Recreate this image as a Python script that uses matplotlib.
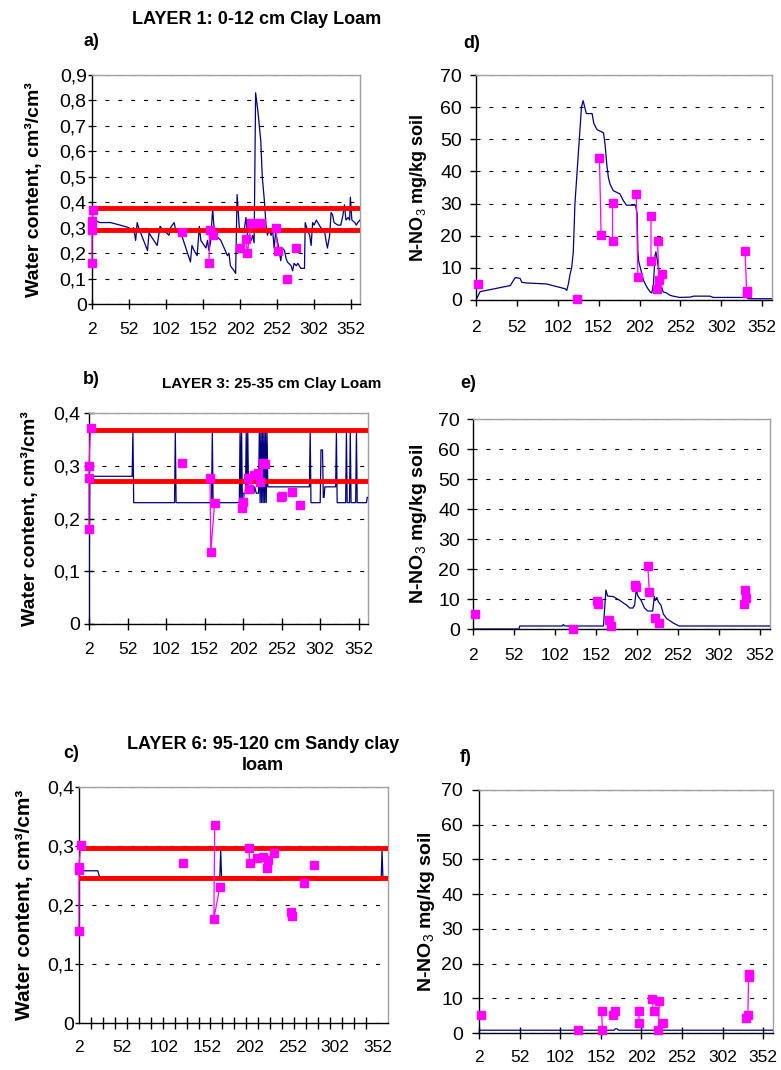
import matplotlib.pyplot as plt
import numpy as np

plt.rcParams['font.family'] = ['Liberation Sans', 'DejaVu Sans']
plt.rcParams['mathtext.fontset'] = 'custom'
plt.rcParams['mathtext.rm'] = 'Liberation Sans'
plt.rcParams['mathtext.it'] = 'Liberation Sans:italic'
plt.rcParams['mathtext.bf'] = 'Liberation Sans:bold'

W, H = 781, 1070

# day-of-year axis
day_ticks = [2, 52, 102, 152, 202, 252, 302, 352]
c_minor_ticks = [2, 16, 30, 44, 58, 72, 86, 100, 114, 128, 142, 156, 170, 184,
                 198, 212, 226, 240, 254, 268, 282, 296, 310, 324, 338, 352]

wc_ticks_a = [0, 0.1, 0.2, 0.3, 0.4, 0.5, 0.6, 0.7, 0.8, 0.9]
wc_labels_a = ['0', '0,1', '0,2', '0,3', '0,4', '0,5', '0,6', '0,7', '0,8', '0,9']
wc_ticks_bc = [0, 0.1, 0.2, 0.3, 0.4]
wc_labels_bc = ['0', '0,1', '0,2', '0,3', '0,4']
no3_ticks = [0, 10, 20, 30, 40, 50, 60, 70]

# ---- a) layer 1 water content, simulated ----
a_days = [2, 4, 13, 27, 40, 52, 54, 56, 58, 61, 63, 65, 77, 79, 81, 90, 94, 95, 106, 108,
          113, 115, 119, 122, 135, 137, 140, 142, 144, 147, 149, 156, 158, 160, 162,
          165, 167, 169, 176, 185, 187, 189, 194, 196, 198, 201, 203, 207, 210, 212,
          214, 217, 219, 221, 223, 226, 228, 230, 232, 235, 237, 239, 241, 244, 246,
          248, 250, 253, 257, 259, 262, 264, 266, 271, 273, 275, 278, 280, 282, 284,
          289, 290, 293, 296, 298, 300, 302, 305, 307, 311, 316, 318, 320, 323, 325,
          327, 329, 334, 338, 341, 343, 345, 348, 350, 351, 353, 357, 359, 361, 364]
a_vals = [0.33, 0.33, 0.32, 0.32, 0.31, 0.30, 0.29, 0.29, 0.30, 0.25, 0.32, 0.30, 0.21, 0.28, 0.27,
          0.23, 0.305, 0.30, 0.27, 0.30, 0.32, 0.29, 0.29, 0.28, 0.165, 0.23, 0.21, 0.20, 0.19,
          0.305, 0.25, 0.22, 0.25, 0.21, 0.24, 0.375, 0.29, 0.27, 0.25, 0.19, 0.20, 0.15, 0.13,
          0.12, 0.43, 0.30, 0.29, 0.28, 0.34, 0.27, 0.24, 0.25, 0.27, 0.24, 0.83, 0.76, 0.70,
          0.64, 0.50, 0.40, 0.31, 0.27, 0.29, 0.27, 0.29, 0.22, 0.28, 0.24, 0.17, 0.22, 0.21,
          0.18, 0.165, 0.15, 0.13, 0.16, 0.15, 0.16, 0.15, 0.14, 0.14, 0.32, 0.29, 0.27, 0.23,
          0.32, 0.31, 0.33, 0.32, 0.30, 0.29, 0.25, 0.22, 0.27, 0.36, 0.35, 0.32, 0.31, 0.31,
          0.35, 0.39, 0.33, 0.34, 0.33, 0.42, 0.33, 0.32, 0.31, 0.32, 0.33]
a_obs_days = [2, 2, 2, 4, None, 124, None, 160, 161, 166, None,
              202, 210, 212, 217, 223, 230, None, 250, 253, None, 266, None, 277]
a_obs_vals = [0.16, 0.29, 0.325, 0.37, None, 0.283, None, 0.16, 0.29, 0.27, None,
              0.22, 0.255, 0.20, 0.32, 0.32, 0.32, None, 0.30, 0.21, None, 0.10, None, 0.22]
a_limits = [0.377, 0.289]

# ---- b) layer 3 water content ----
b_days = [2, 3, 58, 59, 60, 113, 114, 115, 161, 162, 163, 197, 198, 199, 200, 201, 202, 205,
          206, 207, 208, 209, 216, 217, 219, 222, 223, 224, 225, 226, 227, 228, 229, 230, 231,
          232, 233, 234, 288, 289, 290, 302, 303, 305, 306, 307, 308, 322, 323, 324, 335, 336,
          337, 340, 341, 342, 348, 349, 350, 362, 363, 364]
b_vals = [0.0, 0.28, 0.28, 0.365, 0.23, 0.23, 0.365, 0.23, 0.23, 0.365, 0.23, 0.23, 0.365, 0.23,
          0.365, 0.23, 0.248, 0.248, 0.365, 0.248, 0.365, 0.248, 0.248, 0.26, 0.248, 0.248,
          0.365, 0.23, 0.365, 0.23, 0.365, 0.23, 0.365, 0.23, 0.365, 0.23, 0.365, 0.26, 0.26,
          0.365, 0.23, 0.23, 0.33, 0.33, 0.24, 0.24, 0.26, 0.26, 0.365, 0.23, 0.23, 0.365,
          0.23, 0.23, 0.365, 0.23, 0.23, 0.365, 0.23, 0.23, 0.24, 0.24]
b_obs_days = [2, 2, 2, 4, None, 123, None, 159, 160, 165, None,
              201, 202, 208, 210, 216, 221, 224, 228, 230, None, 251, 253, None, 265, None, 276]
b_obs_vals = [0.18, 0.276, 0.30, 0.372, None, 0.305, None, 0.276, 0.136, 0.229, None,
              0.219, 0.232, 0.276, 0.255, 0.282, 0.286, 0.27, 0.306, 0.303, None, 0.24, 0.242,
              None, 0.25, None, 0.226]
b_limits = [0.368, 0.272]

# ---- c) layer 6 water content ----
c_days = [2, 24, 26, 167, 168, 169, 208, 209, 239, 240, 280, 281, 356, 357, 358, 364]
c_vals = [0.258, 0.258, 0.248, 0.248, 0.293, 0.248, 0.248, 0.242, 0.242, 0.248, 0.248, 0.242,
          0.242, 0.293, 0.248, 0.248]
c_obs_days = [2, 2, 2, 4, None, 124, None, 161, 160, 167, None,
              201, 202, 210, 217, 222, 224, 230, None, 250, 252, None, 266, None, 277]
c_obs_vals = [0.156, 0.26, 0.265, 0.302, None, 0.272, None, 0.335, 0.177, 0.231, None,
              0.296, 0.271, 0.279, 0.282, 0.262, 0.276, 0.288, None, 0.188, 0.182, None, 0.238,
              None, 0.268]
c_limits = [0.297, 0.245]

# ---- d) layer 1 nitrate ----
d_days = [2, 7, 11, 44, 50, 56, 58, 64, 88, 111, 113, 115, 117, 119, 121, 123, 127, 131, 133,
          135, 137, 144, 146, 150, 158, 160, 162, 164, 166, 170, 178, 182, 186, 194, 197, 199,
          200, 201, 203, 207, 211, 215, 217, 219, 221, 222, 224, 226, 229, 231, 235, 239, 243,
          251, 264, 268, 288, 292, 333, 335, 364]
d_vals = [0, 2.6, 2.8, 4.5, 7, 6.7, 5.5, 5.3, 5, 3.5, 3, 5, 8, 10, 15, 30, 45, 60, 62, 60, 58,
          58, 55, 53, 52, 48, 42, 38, 36, 34, 33, 31, 29.5, 29.5, 29.5, 27, 15, 12, 10, 6, 4,
          2.5, 2.2, 5, 14, 15, 12, 8, 4, 2.5, 2.2, 1.5, 1.2, 0.8, 0.9, 1.2, 1.2, 0.8, 0.8, 0.4,
          0.4]
d_obs_days = [4, None, 125, None, 153, 155, None, 169, 169, None, 198, 200, None, 216, 216, None,
              223, None, 224, 226, None, 229, None, 331, 333, 334]
d_obs_vals = [5.0, None, 0.2, None, 44.1, 20.2, None, 30.3, 18.5, None, 32.9, 7.3, None, 26.1,
              12.1, None, 3.3, None, 18.4, 6.3, None, 8.1, None, 15.3, 2.8, 2.3]

# ---- e) layer 3 nitrate ----
e_days = [2, 58, 59, 111, 112, 114, 161, 164, 166, 173, 181, 189, 193, 197, 199, 201, 203, 207,
          211, 215, 221, 223, 224, 226, 228, 231, 234, 238, 246, 253, 364]
e_vals = [0, 0, 1, 1, 1.5, 1, 1, 13, 11, 10.8, 9.5, 8, 7, 7, 8, 13, 11, 9.5, 7, 6, 6, 10.8, 9.5,
          10.5, 9, 8, 5, 3.5, 2, 1, 1]
e_obs_days = [4, None, 124, None, 153, 154, None, 168, 170, None, 199, 201, None, 215, 217, None,
              224, 229, None, 332, 333, 335]
e_obs_vals = [4.9, None, 0.1, None, 9.3, 8.5, None, 3.1, 1.1, None, 14.8, 14.0, None, 21.1, 12.2,
              None, 3.8, 2.1, None, 8.5, 12.9, 10.4]

# ---- f) layer 6 nitrate ----
f_days = [2, 168, 170, 172, 174, 364]
f_vals = [0.8, 0.8, 1.2, 1.2, 0.8, 0.8]
f_obs_days = [4, None, 124, None, 153, 154, None, 167, 169, None, 199, 199, None, 215, 217, None,
              224, 223, None, 229, None, 331, 333, 334, 335]
f_obs_vals = [5.1, None, 1.0, None, 6.3, 1.0, None, 5.1, 6.3, None, 6.3, 3.0, None, 9.9, 6.3,
              None, 9.1, 1.0, None, 3.0, None, 4.3, 5.1, 16.2, 17.1]

wc_label = 'Water content, cm\u00b3/cm\u00b3'
no3_label = 'N-NO$_3$ mg/kg soil'

fig = plt.figure(figsize=(W / 100, H / 100), dpi=100)


def px_rect(left, top, right, bottom):
    return [left / W, 1 - bottom / H, (right - left) / W, (bottom - top) / H]


def panel(box, sim_d, sim_v, obs_d, obs_v, ymax, yticks, ylabels, ylabel, label_x, label_fs,
          limits=None, xdir='out', xlen=4, xpad=10, ydir='out', ylen=4, ypad=4):
    ax = fig.add_axes(px_rect(*box))
    ax.plot(sim_d, sim_v, color='#000080', lw=0.9, zorder=3)
    if limits:
        for lvl in limits:
            ax.axhline(lvl, color='#FF0000', lw=3.5, zorder=4)
    ax.plot(np.array(obs_d, dtype=float), np.array(obs_v, dtype=float), color='#FF00FF',
            lw=0.9, marker='s', ms=6, mec='#FF00FF', mfc='#FF00FF', zorder=5, clip_on=False)
    ax.set_xlim(2, 364)
    ax.set_ylim(0, ymax)
    ax.set_xticks(day_ticks)
    ax.set_yticks(yticks)
    ax.set_yticklabels(ylabels)
    ax.yaxis.grid(True, color='black', lw=0.8, linestyle=(0, (3.6, 8)))
    ax.set_axisbelow(True)
    for s in ['left', 'bottom']:
        ax.spines[s].set_color('black')
        ax.spines[s].set_linewidth(1.0)
    for s in ['top', 'right']:
        ax.spines[s].set_color('#A0A0A0')
        ax.spines[s].set_linewidth(1.0)
    ax.tick_params(axis='x', direction=xdir, length=xlen, width=1, pad=xpad, labelsize=12.5)
    ax.tick_params(axis='y', direction=ydir, length=ylen, width=1, pad=ypad, labelsize=14)
    ax.set_ylabel(ylabel, fontsize=label_fs, fontweight='bold')
    ax.yaxis.set_label_coords((label_x - box[0]) / (box[2] - box[0]), 0.5)
    return ax


ax_a = panel((92, 75, 360, 304), a_days, a_vals, a_obs_days, a_obs_vals, 0.9, wc_ticks_a,
             wc_labels_a, wc_label, 43, 14, a_limits, 'inout', 7, 9.4, 'out', 3, 0.8)
ax_b = panel((89, 413, 368, 624), b_days, b_vals, b_obs_days, b_obs_vals, 0.4, wc_ticks_bc,
             wc_labels_bc, wc_label, 39, 14, b_limits, 'inout', 8.4, 8.8, 'inout', 6.7, 3.1)
ax_c = panel((79, 787, 388, 1023), c_days, c_vals, c_obs_days, c_obs_vals, 0.4, wc_ticks_bc,
             wc_labels_bc, wc_label, 34, 15, c_limits, 'out', 0, 12.5, 'out', 3, 0.5)
ax_c.set_xticks(c_minor_ticks, minor=True)
ax_c.tick_params(axis='x', which='minor', direction='inout', length=9, width=1)

ax_d = panel((476, 75, 772, 300), d_days, d_vals, d_obs_days, d_obs_vals, 70, no3_ticks,
             [str(t) for t in no3_ticks], no3_label, 429, 13, None, 'out', 4, 10.7, 'out', 4.3, 5.8)
ax_e = panel((473, 419, 770, 629), e_days, e_vals, e_obs_days, e_obs_vals, 70, no3_ticks,
             [str(t) for t in no3_ticks], no3_label, 429, 14, None, 'out', 4.3, 9.6, 'out', 4, 5.3)
ax_f = panel((479, 790, 773, 1033), f_days, f_vals, f_obs_days, f_obs_vals, 70, no3_ticks,
             [str(t) for t in no3_ticks], no3_label, 437, 14, None, 'inout', 9, 8, 'out', 4.8, 6.7)


def ftext(x, y, s, ha='left', size=13):
    fig.text(x / W, 1 - y / H, s, ha=ha, va='center', fontsize=size, fontweight='bold')


ftext(257, 20, 'LAYER 1: 0-12 cm Clay Loam', 'center', 13)
ftext(83, 42, 'a)')
ftext(272, 384, 'LAYER 3: 25-35 cm Clay Loam', 'center', 11)
ftext(83, 380, 'b)')
fig.text(263 / W, 1 - 755 / H, 'LAYER 6: 95-120 cm Sandy clay\nloam', ha='center', va='center',
         fontsize=13, fontweight='bold', linespacing=1.25)
ftext(63, 753, 'c)')
ftext(463, 43, 'd)')
ftext(460, 383, 'e)')
ftext(460, 758, 'f)')

fig.savefig('out.png', dpi=100)
